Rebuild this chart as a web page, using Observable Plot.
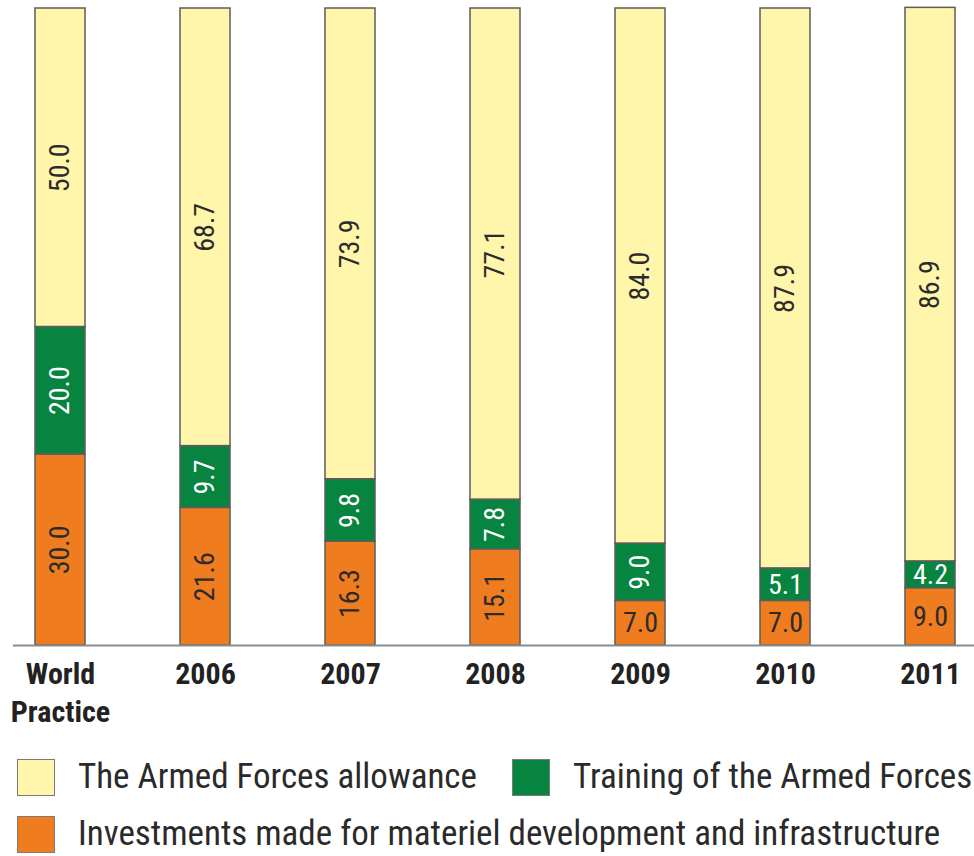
<!DOCTYPE html>
<html>
<head>
<meta charset="utf-8">
<script src="https://cdn.jsdelivr.net/npm/d3@7"></script>
<script src="https://cdn.jsdelivr.net/npm/@observablehq/plot@0.6"></script>
<style>
  html, body { margin: 0; padding: 0; background: #fff; }
  body { width: 974px; overflow: hidden; font-family: "Liberation Sans Narrow", "Roboto Condensed", "DejaVu Sans Condensed", Roboto, sans-serif; }
  #chart svg { display: block; }
  g[aria-label="x-axis tick label"] text { font-weight: bold; }
  .legend { position: relative; height: 121px; color: #2a2a2a; font-size: 35px; line-height: 1.05; }
  .item { position: absolute; display: flex; align-items: center; white-space: nowrap; }
  .sw { width: 36px; height: 35px; border: 1.5px solid #7a7a7a; margin-right: 23px; flex: none; }
</style>
</head>
<body>
<div id="chart"></div>
<div class="legend" id="legend"></div>
<script>
const categories = ["World Practice", "2006", "2007", "2008", "2009", "2010", "2011"];
const tickLabels = ["World\nPractice", "2006", "2007", "2008", "2009", "2010", "2011"];
const series = [
  "Investments made for materiel development and infrastructure",
  "Training of the Armed Forces",
  "The Armed Forces allowance"
];
const investments = [30.0, 21.6, 16.3, 15.1, 7.0, 7.0, 9.0];
const training = [20.0, 9.7, 9.8, 7.8, 9.0, 5.1, 4.2];
const allowance = [50.0, 68.7, 73.9, 77.1, 84.0, 87.9, 86.9];
const colors = ["#ef7d1f", "#078440", "#fff5ab"];
// labels written horizontally in the reference (category|series index)
const horizontalLabels = ["2009|0", "2010|0", "2010|1", "2011|0", "2011|1"];

const rows = [];
categories.forEach((c, i) => {
  let base = 0;
  [investments[i], training[i], allowance[i]].forEach((v, s) => {
    rows.push({cat: c, series: series[s], s, value: v, y1: base, y2: base + v, ym: base + v / 2,
               horiz: horizontalLabels.includes(c + "|" + s)});
    base += v;
  });
});

const labelFill = d => d.s === 1 ? "#ffffff" : "#2b2b2b";
const font = '"Liberation Sans Narrow", "Roboto Condensed", "DejaVu Sans Condensed", Roboto, sans-serif';

const chart = Plot.plot({
  width: 974,
  height: 735,
  marginTop: 8,
  marginBottom: 90,
  marginLeft: 33,
  marginRight: 17,
  style: {fontFamily: font, background: "#fff"},
  x: {domain: categories, paddingInner: 0.655, paddingOuter: 0, axis: null},
  y: {domain: [0, 100], axis: null},
  color: {domain: series, range: colors},
  marks: [
    Plot.barY(rows, {x: "cat", y1: "y1", y2: "y2", fill: "series", stroke: "#5c5c5c", strokeWidth: 1.5}),
    Plot.ruleY([0], {stroke: "#8c8c8c", strokeWidth: 2, insetLeft: -20, insetRight: -17}),
    Plot.text(rows.filter(d => !d.horiz), {x: "cat", y: "ym", text: d => d.value.toFixed(1), rotate: -90,
      fill: labelFill, fontSize: 28, fontFamily: font}),
    Plot.text(rows.filter(d => d.horiz), {x: "cat", y: "ym", text: d => d.value.toFixed(1),
      fill: labelFill, fontSize: 28, fontFamily: font}),
    Plot.axisX({tickSize: 0, tickPadding: 11, label: null, tickFormat: d => tickLabels[categories.indexOf(d)],
      fontSize: 30, fontWeight: "bold", lineHeight: 1.27, fill: "#222", fontFamily: font})
  ]
});
document.getElementById("chart").appendChild(chart);

// legend
const legend = document.getElementById("legend");
const items = [
  {s: 2, left: 17, top: 24},
  {s: 1, left: 512, top: 24},
  {s: 0, left: 17, top: 81}
];
items.forEach(it => {
  const el = document.createElement("div");
  el.className = "item";
  el.style.left = it.left + "px";
  el.style.top = it.top + "px";
  const sw = document.createElement("div");
  sw.className = "sw";
  sw.style.background = colors[it.s];
  const tx = document.createElement("span");
  tx.textContent = series[it.s];
  el.appendChild(sw);
  el.appendChild(tx);
  legend.appendChild(el);
});
</script>
</body>
</html>
